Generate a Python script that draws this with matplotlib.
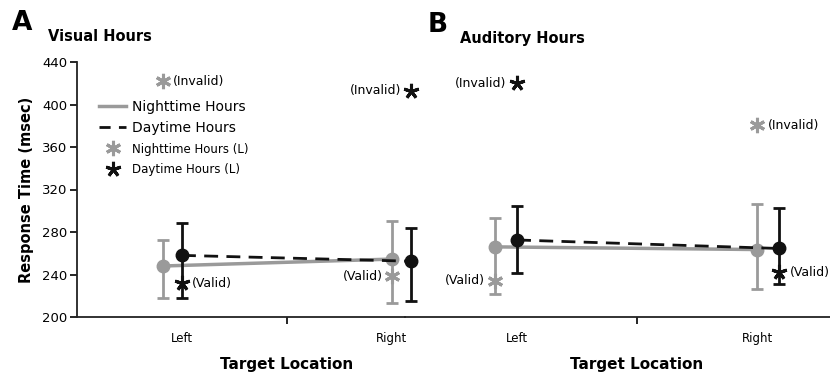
import numpy as np
import matplotlib.pyplot as plt
from matplotlib.lines import Line2D

# x positions (0 = Left, 1 = Right), gray series sits a little left of black
x_night = [-0.09, 1.0]
x_day = [0.0, 1.09]

# Visual hours (panel A)
vis_night = [248, 254.5]
vis_night_lo = [218, 213]
vis_night_hi = [272.5, 290]
vis_day = [258, 252.5]
vis_day_lo = [218, 215]
vis_day_hi = [288.5, 284]
vis_night_valid = [None, 238.5]
vis_night_invalid = [422, None]
vis_day_valid = [232, None]
vis_day_invalid = [None, 413]

# Auditory hours (panel B)
aud_night = [266, 263.5]
aud_night_lo = [221.5, 226]
aud_night_hi = [293, 306]
aud_day = [272.5, 264.5]
aud_day_lo = [241, 231]
aud_day_hi = [304.5, 302.5]
aud_night_valid = [234, None]
aud_night_invalid = [None, 380.5]
aud_day_valid = [None, 242]
aud_day_invalid = [420, None]

categories = ["Left", "Right"]
yticks = [200, 240, 280, 320, 360, 400, 440]

gray = "#9a9a9a"
black = "#111111"

fig = plt.figure(figsize=(8.3, 3.76), dpi=100)
axA = fig.add_axes([77/830, 59/376, 328/830, 255/376])
axB = fig.add_axes([405/830, 59/376, 425/830, 255/376])
axB.patch.set_visible(False)


def draw(ax, night, nlo, nhi, day, dlo, dhi):
    ax.errorbar(x_night, night, yerr=[np.subtract(night, nlo), np.subtract(nhi, night)],
                color=gray, lw=2.5, marker="o", ms=9, elinewidth=2, capsize=4, capthick=2, zorder=3)
    ax.errorbar(x_day, day, yerr=[np.subtract(day, dlo), np.subtract(dhi, day)],
                color=black, lw=2, ls=(0, (5, 3)), marker="o", ms=9, elinewidth=2, capsize=4,
                capthick=2, zorder=4)


def star(ax, x, y, col, mk, label, side):
    ax.plot([x], [y], ls="none", marker=mk, ms=11, mew=2.2, color=col, zorder=5)
    if side == "r":
        ax.text(x + 0.045, y, label, ha="left", va="center", fontsize=9)
    else:
        ax.text(x - 0.045, y, label, ha="right", va="center", fontsize=9)


night_mk = (6, 2, 0)
day_mk = (5, 2, 0)

draw(axA, vis_night, vis_night_lo, vis_night_hi, vis_day, vis_day_lo, vis_day_hi)
star(axA, x_night[0], vis_night_invalid[0], gray, night_mk, "(Invalid)", "r")
star(axA, x_day[0], vis_day_valid[0], black, day_mk, "(Valid)", "r")
star(axA, x_night[1], vis_night_valid[1], gray, night_mk, "(Valid)", "l")
star(axA, x_day[1], vis_day_invalid[1], black, day_mk, "(Invalid)", "l")

draw(axB, aud_night, aud_night_lo, aud_night_hi, aud_day, aud_day_lo, aud_day_hi)
star(axB, x_day[0], aud_day_invalid[0], black, day_mk, "(Invalid)", "l")
star(axB, x_night[0], aud_night_valid[0], gray, night_mk, "(Valid)", "l")
star(axB, x_night[1], aud_night_invalid[1], gray, night_mk, "(Invalid)", "r")
star(axB, x_day[1], aud_day_valid[1], black, day_mk, "(Valid)", "r")

# panel A marks spill past its right edge, as in the original
for art in axA.get_children():
    art.set_clip_on(False)

axA.set_xlim(-0.5, 1.062)
axB.set_xlim(-0.467, 1.304)

for ax in (axA, axB):
    ax.set_ylim(200, 440)
    ax.spines["top"].set_visible(False)
    ax.spines["right"].set_visible(False)
    ax.spines["bottom"].set_linewidth(1.3)
    ax.spines["bottom"].set_color("#222222")
    ax.set_xticks([0.5])
    ax.set_xticklabels([])
    ax.tick_params(axis="x", length=5, width=1.2, direction="out")
    for i, c in enumerate(categories):
        ax.text(i, -0.06, c, transform=ax.get_xaxis_transform(), ha="center", va="top", fontsize=8.5)
    ax.text(0.5, -0.155, "Target Location", transform=ax.get_xaxis_transform(), ha="center",
            va="top", fontsize=11, fontweight="bold")

axA.set_yticks(yticks)
axA.tick_params(axis="y", length=5, width=1.2, labelsize=9.5, pad=2)
axA.spines["left"].set_linewidth(1.3)
axA.spines["left"].set_color("#222222")
axA.set_ylabel("Response Time (msec)", fontsize=10.5, fontweight="bold", labelpad=6)

axB.spines["left"].set_visible(False)
axB.set_yticks([])

fig.text(12/830, 1 - 30/376, "A", fontsize=19, fontweight="bold")
fig.text(48/830, 1 - 41/376, "Visual Hours", fontsize=10.5, fontweight="bold")
fig.text(428/830, 1 - 32/376, "B", fontsize=19, fontweight="bold")
fig.text(460/830, 1 - 43/376, "Auditory Hours", fontsize=10.5, fontweight="bold")

handles = [
    Line2D([], [], color=gray, lw=2.5),
    Line2D([], [], color=black, lw=2, ls=(0, (4, 3))),
    Line2D([], [], ls="none", marker=night_mk, ms=11, mew=2.2, color=gray),
    Line2D([], [], ls="none", marker=day_mk, ms=11, mew=2.2, color=black),
]
labels = ["Nighttime Hours", "Daytime Hours", "Nighttime Hours (L)", "Daytime Hours (L)"]
leg = axA.legend(handles, labels, loc="upper left", bbox_to_anchor=(0.045, 0.88), frameon=False,
                 fontsize=10, handlelength=2.0, handletextpad=0.4, labelspacing=0.55, borderpad=0)
for t in leg.get_texts()[2:]:
    t.set_fontsize(8.5)

fig.savefig("out.png", dpi=100)
